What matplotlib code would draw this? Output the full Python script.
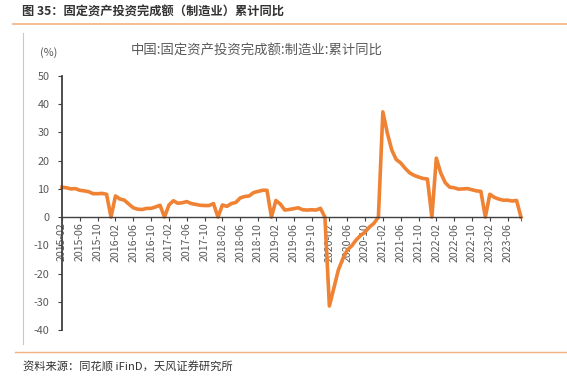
import numpy as np
import pandas as pd
import matplotlib
matplotlib.use("Agg")
import matplotlib.pyplot as plt
from matplotlib.lines import Line2D

plt.rcParams['font.family'] = ['Noto Sans CJK SC', 'DejaVu Sans']
plt.rcParams['axes.unicode_minus'] = False

# ---------------- data ----------------
# monthly cumulative yoy (%), Jan has no release -> drawn as 0
months = [p.strftime("%Y-%m") for p in pd.period_range("2015-02", "2023-09", freq="M")]

v2015 = [10.6, 10.4, 10.0, 10.1, 9.5, 9.3, 9.0, 8.3, 8.3, 8.4, 8.1]
v2016 = [0, 7.5, 6.4, 6.0, 4.6, 3.3, 2.8, 2.7, 3.1, 3.1, 3.6, 4.2]
v2017 = [0, 4.3, 5.8, 4.9, 5.1, 5.5, 4.8, 4.5, 4.2, 4.1, 4.1, 4.8]
v2018 = [0, 4.3, 3.8, 4.8, 5.2, 6.8, 7.3, 7.5, 8.7, 9.1, 9.5, 9.5]
v2019 = [0, 5.9, 4.6, 2.5, 2.7, 3.0, 3.3, 2.6, 2.5, 2.6, 2.5, 3.1]
v2020 = [0, -31.5, -25.2, -18.8, -14.8, -11.7, -10.2, -8.1, -6.5, -5.3, -3.5, -2.2]
v2021 = [0, 37.3, 29.8, 23.8, 20.4, 19.2, 17.3, 15.7, 14.8, 14.2, 13.7, 13.5]
v2022 = [0, 20.9, 15.6, 12.2, 10.6, 10.4, 9.9, 10.0, 10.1, 9.7, 9.3, 9.1]
v2023 = [0, 8.1, 7.0, 6.4, 6.0, 6.0, 5.7, 5.9, 0]

values = v2015 + v2016 + v2017 + v2018 + v2019 + v2020 + v2021 + v2022 + v2023

series_name = "中国:固定资产投资完成额:制造业:累计同比"
fig_title = "图 35：固定资产投资完成额（制造业）累计同比"
source = "资料来源：同花顺 iFinD，天风证券研究所"

# ---------------- plot ----------------
W, H = 567, 381
fig = plt.figure(figsize=(W / 100, H / 100), dpi=100)

ax = fig.add_axes([62 / W, 1 - 330 / H, (521 - 62) / W, (330 - 76) / H])

# spine position first (it resets ticks)
for s in ["top", "right"]:
    ax.spines[s].set_visible(False)
ax.spines["bottom"].set_position(("data", 0))
ax.spines["bottom"].set_color("#404040")
ax.spines["left"].set_color("#404040")
ax.spines["left"].set_linewidth(1.3)
ax.spines["bottom"].set_linewidth(1.0)

x = np.arange(len(values))
ax.plot(x, values, color="#F08234", linewidth=2.6, solid_joinstyle="round",
        clip_on=False)

ax.set_xlim(0, len(values) - 1)
ax.set_ylim(-40, 50)
ax.set_yticks(range(-40, 51, 10))

ax.set_xticks(x[::4])
ax.set_xticklabels(months[::4], rotation=90, fontsize=7.6, color="#595959")
ax.set_xticks([len(values) - 1], minor=True)
ax.tick_params(axis="y", labelsize=7.8, labelcolor="#595959", length=3,
               color="#404040", pad=6)
ax.tick_params(axis="x", which="both", length=3, color="#404040", pad=1)

fig.text(40 / W, 1 - 53 / H, "(%)", fontsize=7.8, color="#595959",
         ha="left", va="center")
fig.text(257 / W, 1 - 51 / H, series_name, fontsize=9.6, color="#595959",
         ha="center", va="center")

# report frame
fig.text(22 / W, 1 - 12 / H, fig_title, fontsize=8.8, fontweight="bold",
         color="#333333", ha="left", va="center")
fig.add_artist(Line2D([13 / W, 1], [1 - 24 / H, 1 - 24 / H],
                      color="#F4B183", linewidth=1.2))
fig.add_artist(Line2D([23 / W, 23 / W], [1 - 33 / H, 1 - 344 / H],
                      color="#C8C8C8", linewidth=0.8))
fig.add_artist(Line2D([15 / W, 1], [1 - 352 / H, 1 - 352 / H],
                      color="#F4B183", linewidth=1.0))
fig.text(23 / W, 1 - 367 / H, source, fontsize=8.1, color="#333333",
         ha="left", va="center")

fig.savefig("out.png", dpi=100)
